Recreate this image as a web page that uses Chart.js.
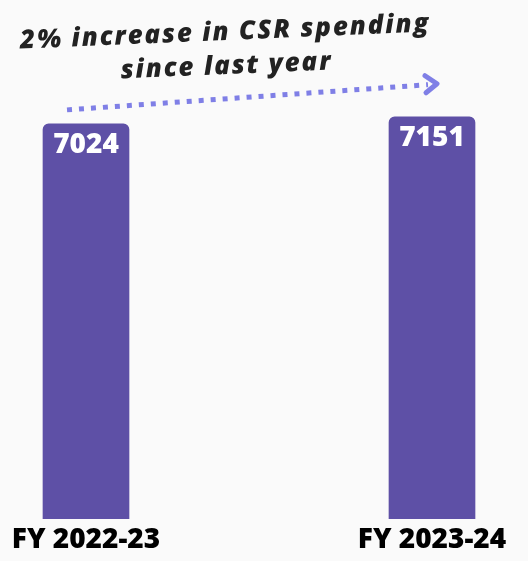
<!DOCTYPE html>
<html>
<head>
<meta charset="utf-8">
<title>CSR spending</title>
<script src="https://cdn.jsdelivr.net/npm/chart.js@4"></script>
<style>
  html, body { margin: 0; padding: 0; background: #fafafa; }
  #wrap { width: 528px; height: 561px; position: relative; }
</style>
</head>
<body>
<div id="wrap"><canvas id="csrChart"></canvas></div>
<script>
// spending per financial year
const years = ["FY 2022-23", "FY 2023-24"];
const spending = [7024, 7151];
const headline = ["2% increase in CSR spending", "since last year"];

const barColor = "#5e50a6";
const arrowColor = "#7f7fe6";

// value labels inside the top of each bar, plus the headline and dotted arrow
const extras = {
  id: "extras",
  afterDatasetsDraw(chart) {
    const ctx = chart.ctx;
    const bars = chart.getDatasetMeta(0).data;

    ctx.save();
    ctx.fillStyle = "#ffffff";
    ctx.font = "800 28px 'Open Sans'";
    ctx.textAlign = "center";
    ctx.textBaseline = "alphabetic";
    bars.forEach((bar, i) => {
      ctx.fillText(String(spending[i]), bar.x, bar.y + 29);
    });
    ctx.restore();

    // dotted arrow from first bar towards the second
    const a = bars[0], b = bars[1];
    const x1 = a.x - 19, y1 = a.y - 14;
    const x2 = b.x + 4, y2 = b.y - 32;
    ctx.save();
    ctx.strokeStyle = arrowColor;
    ctx.lineWidth = 5;
    ctx.setLineDash([5, 7]);
    ctx.beginPath();
    ctx.moveTo(x1, y1);
    ctx.lineTo(x2 - 8, y2);
    ctx.stroke();
    ctx.setLineDash([]);
    ctx.lineCap = "round";
    ctx.lineJoin = "round";
    ctx.beginPath();
    ctx.moveTo(x2 - 11, y2 - 9);
    ctx.lineTo(x2 + 1, y2 - 1);
    ctx.lineTo(x2 - 10, y2 + 8);
    ctx.stroke();
    ctx.restore();

    // tilted headline
    ctx.save();
    ctx.translate(226, 57);
    ctx.rotate(-2.4 * Math.PI / 180);
    ctx.fillStyle = "#222222";
    ctx.font = "italic 800 26px 'Open Sans'";
    ctx.letterSpacing = "1.8px";
    ctx.textAlign = "center";
    ctx.textBaseline = "alphabetic";
    ctx.fillText(headline[0], 0, -17);
    ctx.fillText(headline[1], 0, 17);
    ctx.restore();
  }
};

new Chart(document.getElementById("csrChart"), {
  type: "bar",
  data: {
    labels: years,
    datasets: [{
      data: spending,
      backgroundColor: barColor,
      barThickness: 86,
      borderRadius: { topLeft: 6, topRight: 6 },
      borderSkipped: "bottom",
      clip: false
    }]
  },
  options: {
    responsive: true,
    maintainAspectRatio: false,
    animation: false,
    layout: { padding: { left: 86, right: 96, top: 69, bottom: 0 } },
    plugins: { legend: { display: false }, tooltip: { enabled: false } },
    scales: {
      x: {
        offset: false,
        grid: { display: false, drawTicks: false },
        border: { display: false },
        ticks: {
          color: "#000000",
          padding: 6,
          maxRotation: 0,
          font: { family: "'Open Sans'", size: 28, weight: "800", lineHeight: 1.08 }
        }
      },
      y: {
        display: false,
        min: 0,
        max: 8000
      }
    }
  },
  plugins: [extras]
});
</script>
</body>
</html>
